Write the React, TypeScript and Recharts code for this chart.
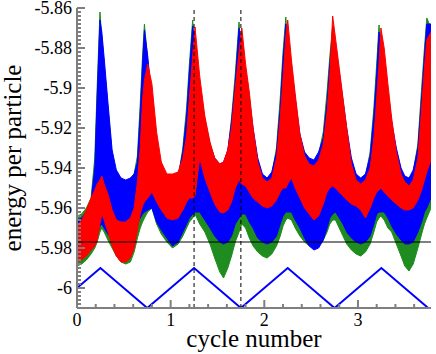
import React from 'react';
import {
  Area,
  ComposedChart,
  Line,
  ReferenceLine,
  XAxis,
  YAxis,
} from 'recharts';

const FONT = '"Liberation Serif", "Times New Roman", serif';
const AXIS = '#7f7f7f';

// sample positions along the cycle axis
const xs = [
  0, 0.05, 0.1, 0.15, 0.19, 0.215, 0.245, 0.265, 0.29, 0.33, 0.375, 0.42, 0.47, 0.52, 0.57, 0.61,
  0.645, 0.675, 0.7, 0.72, 0.755, 0.8, 0.85, 0.9, 0.96, 1.02, 1.08, 1.13, 1.17, 1.2, 1.235, 1.26,
  1.31, 1.365, 1.42, 1.47, 1.525, 1.565, 1.61, 1.65, 1.69, 1.73, 1.76, 1.8, 1.84, 1.88, 1.93, 1.98,
  2.03, 2.08, 2.13, 2.17, 2.2, 2.23, 2.25, 2.29, 2.33, 2.38, 2.43, 2.48, 2.53, 2.58, 2.63, 2.67,
  2.7, 2.73, 2.76, 2.8, 2.84, 2.88, 2.93, 2.98, 3.03, 3.08, 3.13, 3.17, 3.2, 3.225, 3.245, 3.28,
  3.32, 3.36, 3.41, 3.46, 3.5, 3.545, 3.59, 3.64, 3.68, 3.71, 3.735, 3.78,
];

// green triangles: lower / upper edge of the cloud
const greenLow = [
  -5.989, -5.988, -5.986, -5.983, -5.98, -5.977, -5.972, -5.97, -5.972, -5.976, -5.98, -5.984, -5.987, -5.988, -5.987, -5.982,
  -5.975, -5.97, -5.967, -5.965, -5.962, -5.96, -5.968, -5.973, -5.977, -5.98, -5.978, -5.974, -5.97, -5.967, -5.965, -5.963,
  -5.968, -5.972, -5.978, -5.985, -5.992, -5.995, -5.99, -5.984, -5.977, -5.972, -5.968, -5.97, -5.975, -5.979, -5.982, -5.984,
  -5.985, -5.983, -5.979, -5.974, -5.969, -5.966, -5.965, -5.966, -5.97, -5.974, -5.977, -5.979, -5.98, -5.979, -5.976, -5.972,
  -5.968, -5.966, -5.966, -5.97, -5.974, -5.978, -5.981, -5.983, -5.984, -5.982, -5.978, -5.972, -5.967, -5.965, -5.964, -5.966,
  -5.97, -5.972, -5.978, -5.984, -5.989, -5.9915, -5.988, -5.98, -5.973, -5.968, -5.965, -5.96,
];
const greenHigh = [
  -5.964, -5.963, -5.96, -5.955, -5.935, -5.9, -5.862, -5.875, -5.888, -5.91, -5.934, -5.944, -5.947, -5.947, -5.946, -5.943,
  -5.934, -5.908, -5.884, -5.868, -5.886, -5.912, -5.93, -5.942, -5.946, -5.946, -5.945, -5.93, -5.91, -5.888, -5.866, -5.882,
  -5.905, -5.918, -5.93, -5.937, -5.94, -5.939, -5.932, -5.915, -5.893, -5.867, -5.885, -5.895, -5.908, -5.922, -5.937, -5.944,
  -5.946, -5.943, -5.93, -5.905, -5.882, -5.8645, -5.88, -5.893, -5.907, -5.925, -5.933, -5.936, -5.937, -5.933, -5.922, -5.902,
  -5.884, -5.869, -5.884, -5.895, -5.908, -5.922, -5.937, -5.944, -5.946, -5.944, -5.932, -5.91, -5.888, -5.8685, -5.884, -5.894,
  -5.905, -5.92, -5.932, -5.941, -5.945, -5.946, -5.942, -5.928, -5.9, -5.88, -5.865, -5.87,
];

// blue crosses
const blueLow = [
  -5.984, -5.983, -5.981, -5.978, -5.975, -5.973, -5.969, -5.968, -5.97, -5.973, -5.976, -5.976, -5.976, -5.976, -5.975, -5.972,
  -5.968, -5.965, -5.963, -5.962, -5.961, -5.96, -5.967, -5.971, -5.975, -5.979, -5.977, -5.972, -5.968, -5.965, -5.963, -5.962,
  -5.962, -5.966, -5.97, -5.974, -5.977, -5.978, -5.977, -5.974, -5.968, -5.965, -5.963, -5.963, -5.967, -5.97, -5.975, -5.977,
  -5.978, -5.977, -5.974, -5.968, -5.964, -5.962, -5.962, -5.962, -5.966, -5.97, -5.975, -5.979, -5.981, -5.98, -5.976, -5.97,
  -5.965, -5.963, -5.962, -5.965, -5.968, -5.972, -5.975, -5.977, -5.978, -5.977, -5.974, -5.968, -5.963, -5.962, -5.962, -5.962,
  -5.965, -5.969, -5.973, -5.976, -5.978, -5.978, -5.977, -5.972, -5.967, -5.962, -5.96, -5.955,
];
const blueHigh = [
  -5.966, -5.965, -5.962, -5.957, -5.94, -5.905, -5.866, -5.872, -5.885, -5.907, -5.931, -5.941, -5.945, -5.946, -5.945, -5.943,
  -5.937, -5.913, -5.888, -5.871, -5.884, -5.906, -5.928, -5.94, -5.945, -5.945, -5.944, -5.932, -5.914, -5.892, -5.869, -5.88,
  -5.9, -5.916, -5.928, -5.935, -5.938, -5.937, -5.931, -5.917, -5.897, -5.87, -5.882, -5.892, -5.905, -5.92, -5.935, -5.943,
  -5.945, -5.942, -5.932, -5.91, -5.886, -5.868, -5.878, -5.89, -5.905, -5.923, -5.932, -5.935, -5.936, -5.932, -5.925, -5.907,
  -5.888, -5.872, -5.88, -5.892, -5.906, -5.92, -5.935, -5.943, -5.945, -5.943, -5.934, -5.914, -5.893, -5.872, -5.88, -5.89,
  -5.902, -5.917, -5.93, -5.94, -5.944, -5.945, -5.941, -5.93, -5.905, -5.884, -5.868, -5.868,
];

// red circles
const redLow = [
  -5.987, -5.986, -5.984, -5.981, -5.979, -5.976, -5.968, -5.963, -5.966, -5.972, -5.979, -5.984, -5.987, -5.987, -5.985, -5.98,
  -5.971, -5.963, -5.959, -5.957, -5.955, -5.952, -5.957, -5.961, -5.965, -5.966, -5.965, -5.961, -5.957, -5.955, -5.955, -5.954,
  -5.935, -5.945, -5.952, -5.958, -5.962, -5.9625, -5.961, -5.957, -5.95, -5.946, -5.948, -5.949, -5.952, -5.955, -5.957, -5.959,
  -5.96, -5.959, -5.956, -5.952, -5.95, -5.95, -5.948, -5.945, -5.95, -5.955, -5.96, -5.963, -5.966, -5.964, -5.958, -5.952,
  -5.95, -5.949, -5.95, -5.952, -5.954, -5.956, -5.958, -5.959, -5.961, -5.965, -5.96, -5.955, -5.952, -5.951, -5.95, -5.952,
  -5.954, -5.956, -5.958, -5.96, -5.961, -5.961, -5.96, -5.956, -5.951, -5.946, -5.942, -5.936,
];
const redHigh = [
  -5.969, -5.966, -5.961, -5.955, -5.951, -5.948, -5.946, -5.944, -5.948, -5.953, -5.961, -5.966, -5.967, -5.967, -5.965, -5.96,
  -5.947, -5.93, -5.906, -5.896, -5.888, -5.898, -5.922, -5.937, -5.943, -5.943, -5.942, -5.935, -5.924, -5.905, -5.884, -5.8695,
  -5.894, -5.914, -5.927, -5.935, -5.938, -5.937, -5.931, -5.92, -5.9, -5.882, -5.87, -5.888, -5.902, -5.92, -5.937, -5.945,
  -5.947, -5.945, -5.935, -5.915, -5.895, -5.874, -5.866, -5.886, -5.903, -5.923, -5.934, -5.938, -5.939, -5.936, -5.928, -5.912,
  -5.893, -5.864, -5.875, -5.89, -5.905, -5.92, -5.938, -5.946, -5.948, -5.946, -5.94, -5.925, -5.905, -5.888, -5.87, -5.88,
  -5.898, -5.915, -5.932, -5.943, -5.947, -5.949, -5.946, -5.935, -5.91, -5.89, -5.876, -5.872,
];

// triangle wave drawn at the bottom
const waveX = [0, 0.25, 0.75, 1.25, 1.75, 2.25, 2.75, 3.25, 3.75];
const waveY = [-6, -5.99, -6.01, -5.99, -6.01, -5.99, -6.01, -5.99, -6.01];

const xMajor = [0, 1, 2, 3];
const yMajor = [-6, -5.98, -5.96, -5.94, -5.92, -5.9, -5.88, -5.86];
const xTicks = Array.from({ length: 19 }, (_, i) => Number((i * 0.2).toFixed(1)));
const yTicks = Array.from({ length: 76 }, (_, i) => Number((-6.01 + i * 0.002).toFixed(3)));

const rows = xs.map((x, i) => ({
  x,
  green: [greenLow[i], greenHigh[i]],
  blue: [blueLow[i], blueHigh[i]],
  red: [redLow[i], redHigh[i]],
}));
const wave = waveX.map((x, i) => ({ x, y: waveY[i] }));

const isMajorX = (v: number) => xMajor.some((m) => Math.abs(m - v) < 1e-6);
const isMajorY = (v: number) => yMajor.some((m) => Math.abs(m - v) < 1e-6);

function BottomTick({ x, y, payload }: any) {
  const major = isMajorX(payload.value);
  return (
    <g>
      <line x1={x} x2={x} y1={y} y2={y - (major ? 8 : 4)} stroke={AXIS} strokeWidth={2} />
      {major && (
        <text x={x} y={y + 18} textAnchor="middle" fontSize={18} fontFamily={FONT} fill="#000">
          {payload.value}
        </text>
      )}
    </g>
  );
}

function TopTick({ x, y, payload }: any) {
  const major = isMajorX(payload.value);
  return <line x1={x} x2={x} y1={y} y2={y + (major ? 8 : 4)} stroke={AXIS} strokeWidth={2} />;
}

function LeftTick({ x, y, payload }: any) {
  const major = isMajorY(payload.value);
  return (
    <g>
      <line x1={x} x2={x + (major ? 8 : 4)} y1={y} y2={y} stroke={AXIS} strokeWidth={2} />
      {major && (
        <text x={x - 5} y={y + 6} textAnchor="end" fontSize={18} fontFamily={FONT} fill="#000">
          {String(payload.value)}
        </text>
      )}
    </g>
  );
}

function RightTick({ x, y, payload }: any) {
  const major = isMajorY(payload.value);
  return <line x1={x} x2={x - (major ? 8 : 4)} y1={y} y2={y} stroke={AXIS} strokeWidth={2} />;
}

function XTitle() {
  return (
    <text x={254} y={347} textAnchor="middle" fontSize={25} fontFamily={FONT} fill="#000">
      cycle number
    </text>
  );
}

function YTitle() {
  return (
    <text
      x={21}
      y={158}
      transform="rotate(-90 21 158)"
      textAnchor="middle"
      fontSize={25}
      fontFamily={FONT}
      fill="#000"
    >
      energy per particle
    </text>
  );
}

const axisLine = { stroke: AXIS, strokeWidth: 2 };

export default function App() {
  return (
    <div style={{ position: 'absolute', left: 0, top: 0, width: 436, height: 354, background: '#fff' }}>
      <ComposedChart width={436} height={354} data={rows} margin={{ top: 8, right: 5, bottom: 0, left: 0 }}>
        <XAxis
          dataKey="x"
          type="number"
          domain={[0, 3.78]}
          allowDataOverflow
          ticks={xTicks}
          interval={0}
          tickSize={0}
          tickMargin={0}
          tickLine={false}
          tick={<BottomTick />}
          axisLine={axisLine}
          height={46}
          label={<XTitle />}
        />
        <XAxis
          xAxisId="top"
          orientation="top"
          dataKey="x"
          type="number"
          domain={[0, 3.78]}
          allowDataOverflow
          ticks={xTicks}
          interval={0}
          tickSize={0}
          tickMargin={0}
          tickLine={false}
          tick={<TopTick />}
          axisLine={axisLine}
          height={0}
        />
        <YAxis
          type="number"
          domain={[-6.01, -5.86]}
          allowDataOverflow
          ticks={yTicks}
          interval={0}
          tickSize={0}
          tickMargin={0}
          tickLine={false}
          tick={<LeftTick />}
          axisLine={axisLine}
          width={77}
          label={<YTitle />}
        />
        <YAxis
          yAxisId="right"
          orientation="right"
          type="number"
          domain={[-6.01, -5.86]}
          allowDataOverflow
          ticks={yTicks}
          interval={0}
          tickSize={0}
          tickMargin={0}
          tickLine={false}
          tick={<RightTick />}
          axisLine={axisLine}
          width={0}
        />
        <Area
          dataKey="green"
          type="linear"
          stroke="#1e8c1e"
          strokeWidth={1}
          fill="#1e8c1e"
          fillOpacity={1}
          dot={false}
          activeDot={false}
          isAnimationActive={false}
        />
        <Area
          dataKey="blue"
          type="linear"
          stroke="#0000ff"
          strokeWidth={1}
          fill="#0000ff"
          fillOpacity={1}
          dot={false}
          activeDot={false}
          isAnimationActive={false}
        />
        <Area
          dataKey="red"
          type="linear"
          stroke="#ff0000"
          strokeWidth={1}
          fill="#ff0000"
          fillOpacity={1}
          dot={false}
          activeDot={false}
          isAnimationActive={false}
        />
        <Line
          data={wave}
          dataKey="y"
          type="linear"
          stroke="#0000ff"
          strokeWidth={2}
          dot={false}
          activeDot={false}
          isAnimationActive={false}
        />
        <ReferenceLine y={-5.977} stroke="#000" strokeWidth={1} />
        <ReferenceLine x={1.25} stroke="#000" strokeWidth={1} strokeDasharray="4 3" />
        <ReferenceLine x={1.75} stroke="#000" strokeWidth={1} strokeDasharray="4 3" />
      </ComposedChart>
    </div>
  );
}
